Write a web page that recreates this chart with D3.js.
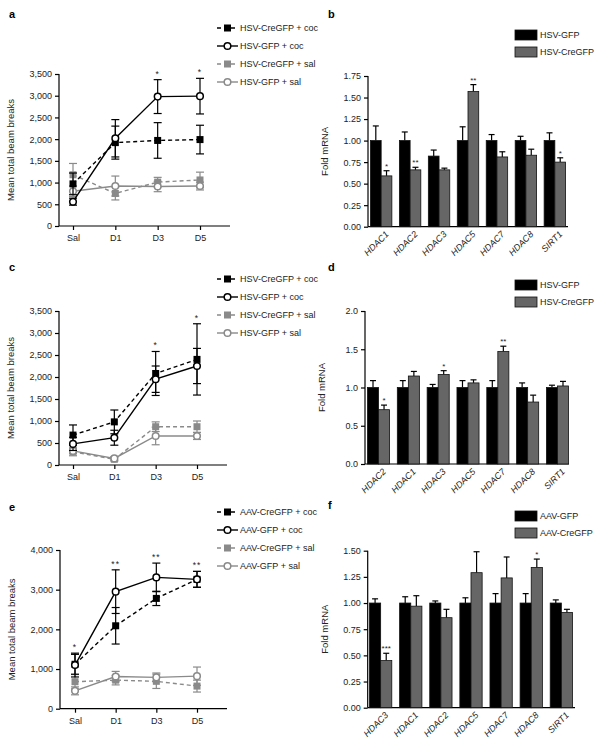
<!DOCTYPE html>
<html>
<head>
<meta charset="utf-8">
<script src="https://cdn.jsdelivr.net/npm/d3@7"></script>
<style>
  body { margin: 0; background: #fff; }
  svg { display: block; font-family: "Liberation Sans", Arial, sans-serif; }
  .axis path, .axis line { stroke: #000; stroke-width: 1.2; }
  .axis text { font-size: 9px; fill: #222; }
</style>
</head>
<body>
<svg id="fig" width="602" height="747"></svg>
<script>
// ---- data ----
const days = ['Sal', 'D1', 'D3', 'D5']

// panel a (HSV)
const a_cre_coc = [970, 1920, 1970, 1990]
const a_cre_coc_err = [250, 380, 410, 330]
const a_gfp_coc = [560, 2020, 2980, 2990]
const a_gfp_coc_err = [80, 430, 390, 410]
const a_cre_sal = [1180, 750, 1010, 1060]
const a_cre_sal_err = [260, 150, 110, 180]
const a_gfp_sal = [800, 920, 910, 920]
const a_gfp_sal_err = [120, 230, 120, 90]
const a_stars = ['', '', '*', '*']

// panel c (HSV)
const c_cre_coc = [680, 980, 2080, 2400]
const c_cre_coc_err = [230, 270, 500, 810]
const c_gfp_coc = [480, 620, 1950, 2250]
const c_gfp_coc_err = [150, 170, 300, 400]
const c_cre_sal = [300, 130, 870, 870]
const c_cre_sal_err = [90, 40, 110, 130]
const c_gfp_sal = [320, 150, 660, 660]
const c_gfp_sal_err = [60, 40, 200, 80]
const c_stars = ['', '', '*', '*']

// panel e (AAV)
const e_cre_coc = [1120, 2090, 2780, 3260]
const e_cre_coc_err = [250, 460, 180, 200]
const e_gfp_coc = [1100, 2950, 3310, 3260]
const e_gfp_coc_err = [300, 550, 360, 200]
const e_cre_sal = [680, 720, 690, 570]
const e_cre_sal_err = [180, 120, 180, 150]
const e_gfp_sal = [450, 810, 790, 820]
const e_gfp_sal_err = [100, 130, 110, 230]
const e_stars = ['*', '**', '**', '**']

const hsv_line_names = ['HSV-CreGFP + coc', 'HSV-GFP + coc', 'HSV-CreGFP + sal', 'HSV-GFP + sal']
const aav_line_names = ['AAV-CreGFP + coc', 'AAV-GFP + coc', 'AAV-CreGFP + sal', 'AAV-GFP + sal']

// panel b
const b_genes = ['HDAC1', 'HDAC2', 'HDAC3', 'HDAC5', 'HDAC7', 'HDAC8', 'SIRT1']
const b_gfp = [1.00, 1.00, 0.82, 1.00, 1.00, 1.00, 1.00]
const b_gfp_err = [0.17, 0.10, 0.07, 0.16, 0.07, 0.05, 0.09]
const b_cre = [0.59, 0.66, 0.66, 1.57, 0.81, 0.83, 0.75]
const b_cre_err = [0.06, 0.03, 0.02, 0.08, 0.06, 0.07, 0.05]
const b_stars = ['*', '**', '', '**', '', '', '*']
const b_ticks = [0, 0.25, 0.5, 0.75, 1.0, 1.25, 1.5, 1.75]

// panel d
const d_genes = ['HDAC2', 'HDAC1', 'HDAC3', 'HDAC5', 'HDAC7', 'HDAC8', 'SIRT1']
const d_gfp = [1.00, 1.00, 1.00, 1.00, 1.00, 1.00, 1.00]
const d_gfp_err = [0.09, 0.09, 0.04, 0.09, 0.09, 0.06, 0.03]
const d_cre = [0.71, 1.15, 1.17, 1.06, 1.47, 0.81, 1.02]
const d_cre_err = [0.06, 0.06, 0.05, 0.04, 0.07, 0.09, 0.06]
const d_stars = ['*', '', '*', '', '**', '', '']
const d_ticks = [0, 0.5, 1.0, 1.5, 2.0]

// panel f
const f_genes = ['HDAC3', 'HDAC1', 'HDAC2', 'HDAC5', 'HDAC7', 'HDAC8', 'SIRT1']
const f_gfp = [1.00, 1.00, 1.00, 1.00, 1.00, 1.00, 1.00]
const f_gfp_err = [0.04, 0.06, 0.02, 0.05, 0.09, 0.09, 0.03]
const f_cre = [0.45, 0.97, 0.86, 1.29, 1.24, 1.34, 0.91]
const f_cre_err = [0.07, 0.10, 0.08, 0.20, 0.20, 0.08, 0.03]
const f_stars = ['***', '', '', '', '', '*', '']
const f_ticks = [0, 0.25, 0.5, 0.75, 1.0, 1.25, 1.5]

const hsv_bar_names = ['HSV-GFP', 'HSV-CreGFP']
const aav_bar_names = ['AAV-GFP', 'AAV-CreGFP']

const svg = d3.select('#fig')
const GRAY = '#8a8a8a'
const BARGRAY = '#666'

function panelLabel(txt, x, y){
    svg.append('text').attr('x', x).attr('y', y)
        .attr('font-size', 11).attr('font-weight', 'bold').text(txt)
}

// ---- line chart ----
function lineChart(cfg){
    const g = svg.append('g')
    const y = d3.scaleLinear().domain([0, cfg.ymax]).range([cfg.y0, cfg.ytop])
    const x = d3.scalePoint().domain(days).range([cfg.x0, cfg.x1])

    const ya = g.append('g').attr('class', 'axis')
        .attr('transform', `translate(${cfg.axisX},0)`)
        .call(d3.axisLeft(y).tickValues(cfg.ticks).tickSize(4).tickSizeOuter(0).tickFormat(d3.format(',')))
    ya.select('.domain').attr('d', `M0,${cfg.y0}V${cfg.ytop}`)

    const xa = g.append('g').attr('class', 'axis')
        .attr('transform', `translate(0,${cfg.y0})`)
        .call(d3.axisBottom(x).tickSize(4).tickSizeOuter(0))
    xa.select('.domain').attr('d', `M${cfg.axisX},0H${cfg.axisEnd}`)
    xa.selectAll('text').attr('font-size', 9.5).attr('dy', '0.9em')

    g.append('text')
        .attr('transform', `translate(${cfg.axisX - 45},${(cfg.y0 + cfg.ytop) / 2}) rotate(-90)`)
        .attr('text-anchor', 'middle').attr('font-size', 9.5).attr('fill', '#222')
        .text('Mean total beam breaks')

    const styles = [
        {color: '#000', dash: '4,3', shape: 'square'},
        {color: '#000', dash: null, shape: 'circle'},
        {color: GRAY, dash: '4,3', shape: 'square'},
        {color: GRAY, dash: null, shape: 'circle'}
    ]
    // sal series first, coc on top
    const order = [2, 3, 0, 1]
    order.forEach(si => {
        const st = styles[si]
        const vals = cfg.series[si], errs = cfg.errors[si]
        const pts = days.map((d, i) => ({d, v: vals[i], e: errs[i]}))
        const sg = g.append('g')
        pts.forEach(p => {
            const cx = x(p.d)
            sg.append('line').attr('x1', cx).attr('x2', cx)
                .attr('y1', y(p.v + p.e)).attr('y2', y(p.v - p.e))
                .attr('stroke', st.color).attr('stroke-width', 1.2)
            ;[p.v + p.e, p.v - p.e].forEach(v => {
                sg.append('line').attr('x1', cx - 4).attr('x2', cx + 4)
                    .attr('y1', y(v)).attr('y2', y(v))
                    .attr('stroke', st.color).attr('stroke-width', 1.2)
            })
        })
        sg.append('path').datum(pts)
            .attr('d', d3.line().x(p => x(p.d)).y(p => y(p.v)))
            .attr('fill', 'none').attr('stroke', st.color).attr('stroke-width', 1.4)
            .attr('stroke-dasharray', st.dash)
        pts.forEach(p => drawMarker(sg, st, x(p.d), y(p.v)))
    })

    // significance stars
    cfg.stars.forEach((s, i) => {
        if(!s) return
        const top = d3.max(cfg.series.slice(0, 2), (ser, k) => ser[i] + cfg.errors[k][i])
        g.append('text').attr('x', x(days[i])).attr('y', y(top) - 3)
            .attr('text-anchor', 'middle').attr('font-size', 8.5).attr('fill', '#222')
            .attr('letter-spacing', 1).text(s)
    })

    // legend
    cfg.names.forEach((name, i) => {
        const st = styles[i]
        const ly = cfg.legY + i * 18
        const lg = svg.append('g')
        lg.append('line').attr('x1', 217).attr('x2', 238).attr('y1', ly).attr('y2', ly)
            .attr('stroke', st.color).attr('stroke-width', 1.4).attr('stroke-dasharray', st.dash)
        drawMarker(lg, st, 227.5, ly)
        lg.append('text').attr('x', 240).attr('y', ly).attr('dy', '0.35em')
            .attr('font-size', 9).attr('fill', '#222').text(name)
    })
}

function drawMarker(sel, st, cx, cy){
    if(st.shape === 'square'){
        sel.append('rect').attr('x', cx - 3.5).attr('y', cy - 3.5)
            .attr('width', 7).attr('height', 7).attr('fill', st.color)
    } else {
        sel.append('circle').attr('cx', cx).attr('cy', cy).attr('r', 3.3)
            .attr('fill', '#fff').attr('stroke', st.color).attr('stroke-width', 1.5)
    }
}

// ---- bar chart ----
function barChart(cfg){
    const g = svg.append('g')
    const y = d3.scaleLinear().domain([0, cfg.ymax]).range([cfg.y0, cfg.ytop])
    const x = d3.scaleBand().domain(cfg.genes).range([cfg.x0, cfg.x1]).paddingInner(0.26).paddingOuter(0.05)
    const xs = d3.scaleBand().domain([0, 1]).range([0, x.bandwidth()])

    const ya = g.append('g').attr('class', 'axis')
        .attr('transform', `translate(${cfg.axisX},0)`)
        .call(d3.axisLeft(y).tickValues(cfg.ticks).tickSize(4).tickSizeOuter(0).tickFormat(d3.format(cfg.fmt)))
    ya.select('.domain').attr('d', `M0,${cfg.y0}V${cfg.ytop}`)

    const xa = g.append('g').attr('class', 'axis')
        .attr('transform', `translate(0,${cfg.y0})`)
        .call(d3.axisBottom(x).tickSize(0).tickSizeOuter(0))
    xa.select('.domain').attr('d', `M${cfg.axisX},0H${cfg.axisEnd}`)
    xa.selectAll('text')
        .attr('font-style', 'italic').attr('font-size', 9)
        .attr('text-anchor', 'end').attr('dy', null)
        .attr('transform', 'translate(6,6) rotate(-45)')

    g.append('text')
        .attr('transform', `translate(${cfg.axisX - 40},${(cfg.y0 + cfg.ytop) / 2}) rotate(-90)`)
        .attr('text-anchor', 'middle').attr('font-size', 9.5).attr('fill', '#222')
        .text('Fold mRNA')

    const fills = ['#000', BARGRAY]
    const groups = [[cfg.gfp, cfg.gfpErr], [cfg.cre, cfg.creErr]]
    groups.forEach(([vals, errs], k) => {
        cfg.genes.forEach((gene, i) => {
            const bx = x(gene) + xs(k)
            const cx = bx + xs.bandwidth() / 2
            const top = y(vals[i] + errs[i])
            g.append('line').attr('x1', cx).attr('x2', cx).attr('y1', y(vals[i])).attr('y2', top)
                .attr('stroke', '#000').attr('stroke-width', 1.2)
            g.append('line').attr('x1', cx - 3).attr('x2', cx + 3).attr('y1', top).attr('y2', top)
                .attr('stroke', '#000').attr('stroke-width', 1.2)
            g.append('rect').attr('x', bx).attr('y', y(vals[i]))
                .attr('width', xs.bandwidth()).attr('height', cfg.y0 - y(vals[i]))
                .attr('fill', fills[k]).attr('stroke', '#111').attr('stroke-width', 0.8)
        })
    })

    cfg.stars.forEach((s, i) => {
        if(!s) return
        const cx = x(cfg.genes[i]) + xs(1) + xs.bandwidth() / 2
        g.append('text').attr('x', cx).attr('y', y(cfg.cre[i] + cfg.creErr[i]) - 2)
            .attr('text-anchor', 'middle').attr('font-size', 8).attr('fill', '#222').text(s)
    })

    cfg.names.forEach((name, k) => {
        const ly = cfg.legY + k * 17
        svg.append('rect').attr('x', 515).attr('y', ly - 5).attr('width', 22).attr('height', 10)
            .attr('fill', fills[k]).attr('stroke', '#111').attr('stroke-width', 0.8)
        svg.append('text').attr('x', 540).attr('y', ly).attr('dy', '0.35em')
            .attr('font-size', 9).attr('fill', '#222').text(name)
    })
}

// ---- panels ----
panelLabel('a', 9, 18)
lineChart({
    ymax: 3500, y0: 226, ytop: 74, axisX: 59, axisEnd: 230, x0: 73, x1: 200,
    ticks: d3.range(0, 3501, 500), legY: 28, names: hsv_line_names, stars: a_stars,
    series: [a_cre_coc, a_gfp_coc, a_cre_sal, a_gfp_sal],
    errors: [a_cre_coc_err, a_gfp_coc_err, a_cre_sal_err, a_gfp_sal_err]
})

panelLabel('b', 328, 18)
barChart({
    ymax: 1.75, y0: 226.7, ytop: 76, axisX: 368, axisEnd: 568, x0: 369, x1: 567,
    ticks: b_ticks, fmt: '.2f', legY: 35, names: hsv_bar_names, stars: b_stars,
    genes: b_genes, gfp: b_gfp, gfpErr: b_gfp_err, cre: b_cre, creErr: b_cre_err
})

panelLabel('c', 9, 271)
lineChart({
    ymax: 3500, y0: 465, ytop: 311, axisX: 59, axisEnd: 227, x0: 73, x1: 197,
    ticks: d3.range(0, 3501, 500), legY: 279, names: hsv_line_names, stars: c_stars,
    series: [c_cre_coc, c_gfp_coc, c_cre_sal, c_gfp_sal],
    errors: [c_cre_coc_err, c_gfp_coc_err, c_cre_sal_err, c_gfp_sal_err]
})

panelLabel('d', 328, 271)
barChart({
    ymax: 2.0, y0: 464, ytop: 311, axisX: 365, axisEnd: 569, x0: 366, x1: 570,
    ticks: d_ticks, fmt: '.1f', legY: 285, names: hsv_bar_names, stars: d_stars,
    genes: d_genes, gfp: d_gfp, gfpErr: d_gfp_err, cre: d_cre, creErr: d_cre_err
})

panelLabel('e', 9, 511)
lineChart({
    ymax: 4000, y0: 708.7, ytop: 550, axisX: 60, axisEnd: 227, x0: 75, x1: 197,
    ticks: d3.range(0, 4001, 1000), legY: 512, names: aav_line_names, stars: e_stars,
    series: [e_cre_coc, e_gfp_coc, e_cre_sal, e_gfp_sal],
    errors: [e_cre_coc_err, e_gfp_coc_err, e_cre_sal_err, e_gfp_sal_err]
})

panelLabel('f', 328, 509)
barChart({
    ymax: 1.5, y0: 707.7, ytop: 550.7, axisX: 367.7, axisEnd: 575, x0: 368, x1: 574,
    ticks: f_ticks, fmt: '.2f', legY: 516, names: aav_bar_names, stars: f_stars,
    genes: f_genes, gfp: f_gfp, gfpErr: f_gfp_err, cre: f_cre, creErr: f_cre_err
})
</script>
</body>
</html>
